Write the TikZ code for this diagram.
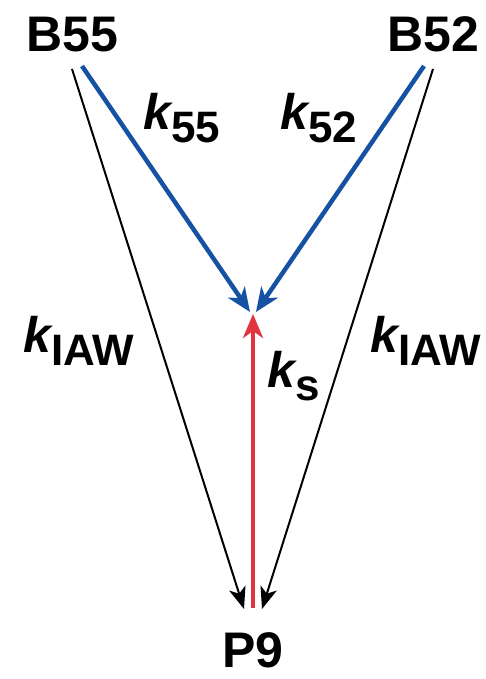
\documentclass[tikz,border=0pt]{standalone}
\usepackage{fontspec}
\setmainfont{Liberation Sans}
\usetikzlibrary{arrows.meta}
\definecolor{kblue}{HTML}{1652A3}
\definecolor{kred}{HTML}{E0353F}
\newcommand{\klab}[1]{{\fontsize{50}{50}\selectfont\bfseries\itshape k}\raisebox{-12.5pt}{\fontsize{44}{44}\selectfont\bfseries #1}}
\begin{document}
\begin{tikzpicture}[x=1pt,y=1pt,
  species/.style={inner sep=0pt,anchor=base,font=\fontsize{50}{50}\selectfont\bfseries},
  rate/.style={inner sep=0pt,anchor=base west},
  blk/.style={line width=2pt,-{Stealth[length=22pt,width=17pt,inset=6pt]}},
  blu/.style={line width=4.5pt,kblue,-{Stealth[length=24pt,width=20pt,inset=7pt]}},
  rd/.style={line width=4.5pt,kred,-{Stealth[length=24pt,width=20pt,inset=7pt]}}]
\useasboundingbox (0,0) rectangle (486,679);
\node[species] (B55) at (72,627) {B55};
\node[species] (B52) at (433,627) {B52};
\node[species] (P9) at (253,11) {P9};
\coordinate (b55k) at (72,610);
\coordinate (b52k) at (433,610);
\coordinate (b55b) at (82,613);
\coordinate (b52b) at (424,613);
\coordinate (p9l) at (244,70);
\coordinate (p9r) at (262,70);
\coordinate (p9s) at (253,71);
\coordinate (meetl) at (250,367);
\coordinate (meetr) at (256,367);
\coordinate (meet) at (253,365);
\draw[blk] (b55k) -- (p9l);
\draw[blk] (b52k) -- (p9r);
\draw[blu] (b55b) -- (meetl);
\draw[blu] (b52b) -- (meetr);
\draw[rd] (p9s) -- (meet);
\node[rate] (k55) at (143,549) {\klab{55}};
\node[rate] (k52) at (280,549) {\klab{52}};
\node[rate] (kiawl) at (23,326) {\klab{IAW}};
\node[rate] (kiawr) at (370,326) {\klab{IAW}};
\node[rate] (ks) at (267,291) {\klab{s}};
\end{tikzpicture}
\end{document}
